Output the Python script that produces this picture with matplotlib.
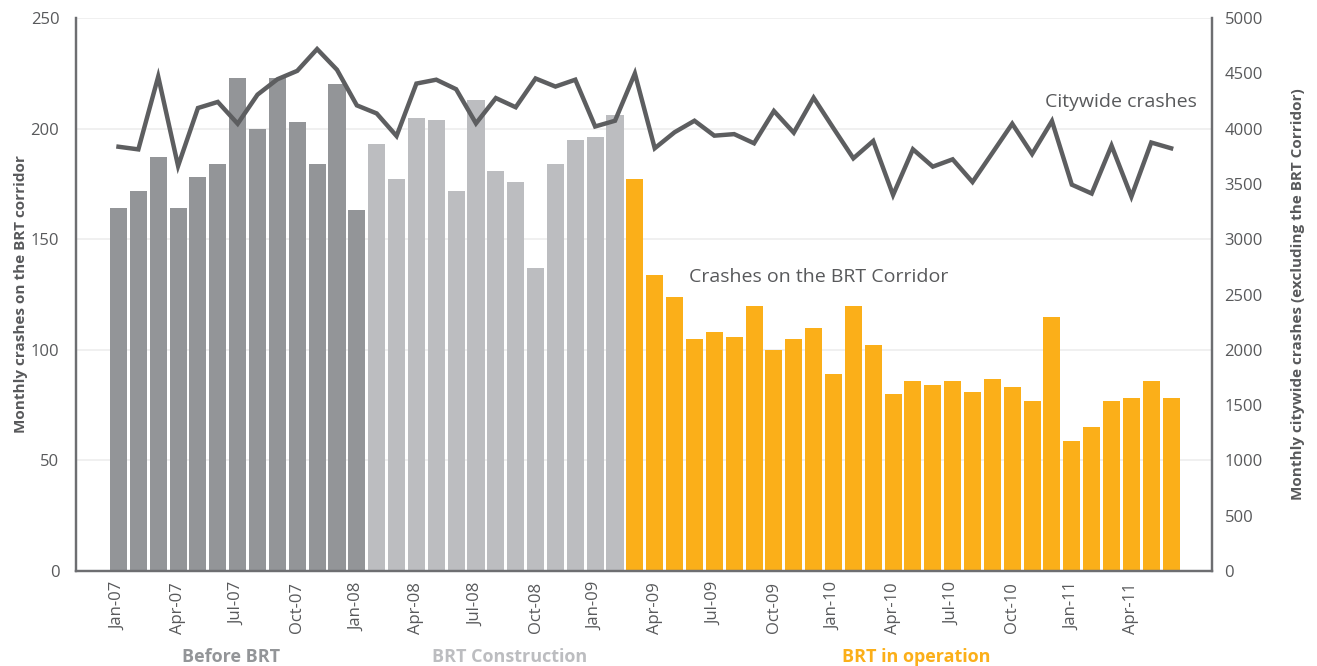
import matplotlib.pyplot as plt
import numpy as np

# monthly data, Jan-07 .. Jun-11
months = [
    "Jan-07", "Feb-07", "Mar-07", "Apr-07", "May-07", "Jun-07", "Jul-07", "Aug-07", "Sep-07",
    "Oct-07", "Nov-07", "Dec-07", "Jan-08", "Feb-08", "Mar-08", "Apr-08", "May-08", "Jun-08",
    "Jul-08", "Aug-08", "Sep-08", "Oct-08", "Nov-08", "Dec-08", "Jan-09", "Feb-09", "Mar-09",
    "Apr-09", "May-09", "Jun-09", "Jul-09", "Aug-09", "Sep-09", "Oct-09", "Nov-09", "Dec-09",
    "Jan-10", "Feb-10", "Mar-10", "Apr-10", "May-10", "Jun-10", "Jul-10", "Aug-10", "Sep-10",
    "Oct-10", "Nov-10", "Dec-10", "Jan-11", "Feb-11", "Mar-11", "Apr-11", "May-11", "Jun-11",
]
brt_crashes = [
    164, 172, 187, 164, 178, 184, 223, 200, 223, 203, 184, 220, 163,
    193, 177, 205, 204, 172, 213, 181, 176, 137, 184, 195, 196, 206,
    177, 134, 124, 105, 108, 106, 120, 100, 105, 110, 89, 120, 102, 80,
    86, 84, 86, 81, 87, 83, 77, 115, 59, 65, 77, 78, 86, 78,
]
citywide_crashes = [
    3836, 3812, 4470, 3662, 4186, 4241, 4044, 4307, 4446, 4522, 4719, 4532, 4210,
    4137, 3933, 4407, 4442, 4356, 4047, 4276, 4193, 4453, 4380, 4442, 4019, 4071,
    4498, 3822, 3967, 4071, 3936, 3950, 3867, 4159, 3963, 4279, 4003, 3731, 3888, 3400,
    3813, 3656, 3722, 3517, 3780, 4044, 3770, 4068, 3493, 3413, 3846, 3385, 3874, 3822,
]
phases = ["Before BRT", "BRT Construction", "BRT in operation"]
phase_lengths = [13, 13, 28]

c_before = "#939598"
c_constr = "#BCBDC0"
c_oper = "#FBAF19"
c_line = "#5D5E60"
c_text = "#58595B"
phase_colors = [c_before, c_constr, c_oper]

plt.rcParams["font.family"] = ["Open Sans", "DejaVu Sans"]

fig = plt.figure(figsize=(13.17, 6.66), dpi=100)
ax = fig.add_axes([0.0577, 0.1426, 0.8626, 0.8304])
ax2 = ax.twinx()

x = np.arange(len(months))
bar_colors = []
for col, n in zip(phase_colors, phase_lengths):
    bar_colors += [col] * n

ax.bar(x, brt_crashes, width=0.86, color=bar_colors, zorder=2)
ax2.plot(x, citywide_crashes, color=c_line, lw=3.2, solid_joinstyle="miter", zorder=3)

ax.set_xlim(-2.14, 55.06)
ax.set_ylim(0, 250)
ax2.set_ylim(0, 5000)
ax.set_yticks(range(0, 251, 50))
ax2.set_yticks(range(0, 5001, 500))
ax.yaxis.grid(True, color="#EEEEEE", lw=1.2, zorder=0)
ax.set_axisbelow(True)

ax.set_xticks(x[::3])
ax.set_xticklabels(months[::3], rotation=90, fontsize=9, color=c_text)

for a in (ax, ax2):
    a.tick_params(length=0, colors=c_text, labelsize=12)
    a.spines["top"].set_visible(False)
    for s in ("left", "right", "bottom"):
        a.spines[s].set_color("#6D6E71")
        a.spines[s].set_linewidth(1.6)
ax.tick_params(axis="x", pad=8)
ax.tick_params(axis="y", pad=12)
ax2.tick_params(axis="y", pad=9)

ax.set_ylabel("Monthly crashes on the BRT corridor", fontsize=11, fontweight="bold",
              color=c_text, labelpad=2)
ax2.set_ylabel("Monthly citywide crashes (excluding the BRT Corridor)", fontsize=11,
               fontweight="bold", color=c_text, labelpad=20)

ax.text(54.3, 212, "Citywide crashes", fontsize=14, color=c_text, ha="right", va="center")
ax.text(28.75, 133, "Crashes on the BRT Corridor", fontsize=14, color=c_text,
        ha="left", va="center")

# phase labels under the axis
label_mids = [5.66, 19.7, 40.15]
for name, mid, col in zip(phases, label_mids, phase_colors):
    ax.text(mid, -0.155, name, transform=ax.get_xaxis_transform(), ha="center",
            va="center", fontsize=13, fontweight="bold", color=col, fontstretch="condensed")

fig.savefig("out.png", dpi=100)
